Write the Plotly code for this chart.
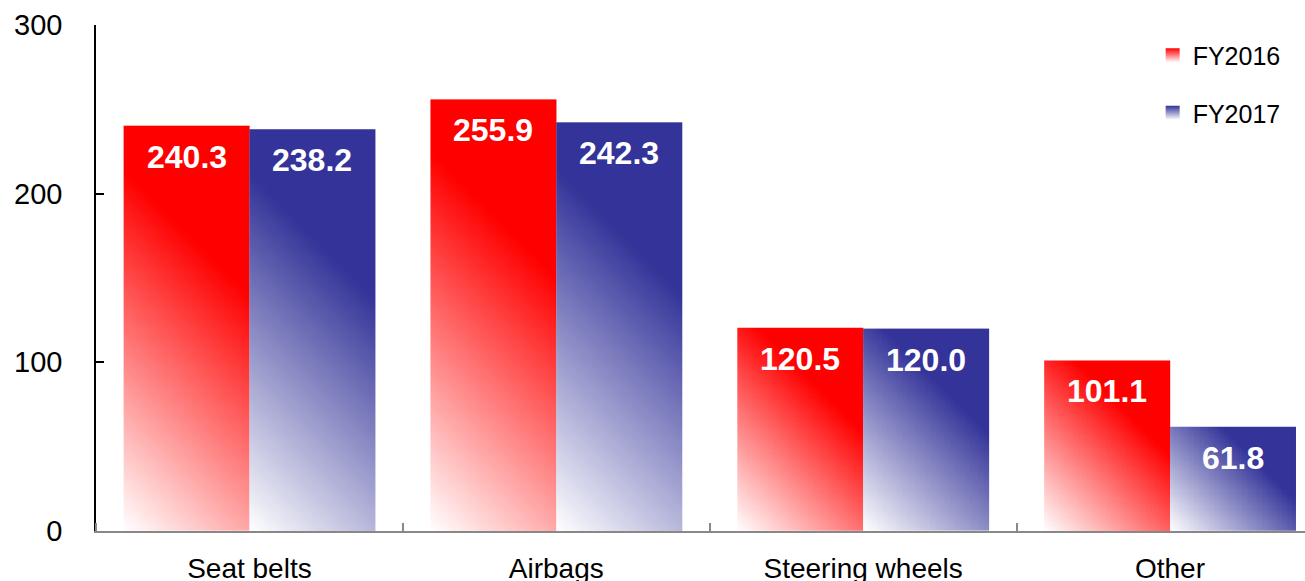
import numpy as np
import plotly.graph_objects as go

categories = ["Seat belts", "Airbags", "Steering wheels", "Other"]
fy2016 = [240.3, 255.9, 120.5, 101.1]
fy2017 = [238.2, 242.3, 120.0, 61.8]
series_names = ["FY2016", "FY2017"]
series_colors = ["#ff0000", "#333399"]

W, H = 1305, 581
ML, MR, MT, MB = 96, 0, 25, 50
XR = [-0.5, 3.44]
YR = [0, 300]
PXX = (W - ML - MR) / (XR[1] - XR[0])
PXY = (H - MT - MB) / (YR[1] - YR[0])
BARW = 0.41
FULL_AT = 0.68

fig = go.Figure()

for s, (vals, col) in enumerate(zip([fy2016, fy2017], series_colors)):
    for i, v in enumerate(vals):
        x0 = i - BARW + s * BARW
        x1 = x0 + BARW
        nx = 50
        ny = max(20, int(v * 0.8))
        xe = np.linspace(x0, x1, nx + 1)
        ye = np.linspace(0, v, ny + 1)
        xc = (xe[:-1] + xe[1:]) / 2
        yc = (ye[:-1] + ye[1:]) / 2
        dx = (xc - x0) * PXX
        dy = yc * PXY
        tot = (x1 - x0) * PXX + v * PXY
        t = (dx[None, :] + dy[:, None]) / tot
        z = np.clip(t / FULL_AT, 0, 1)
        fig.add_trace(go.Heatmap(
            x=xe, y=ye, z=z, zmin=0, zmax=1,
            colorscale=[[0, "#ffffff"], [1, col]],
            showscale=False, hoverinfo="skip", showlegend=False,
        ))
        fig.add_annotation(
            x=(x0 + x1) / 2, y=v, yanchor="top", yshift=-11,
            text=f"{v:.1f}", showarrow=False,
            font=dict(family="Liberation Sans, Arial", size=32, color="white", weight="bold"),
        )

for s, (name, col) in enumerate(zip(series_names, series_colors)):
    fig.add_trace(go.Scatter(
        x=[None], y=[None], mode="markers", name=name, legendgroup=name,
        marker=dict(symbol="square", size=14, color=col,
                    gradient=dict(type="vertical", color="#ffffff")),
    ))

fig.update_layout(
    width=W, height=H,
    margin=dict(l=ML, r=MR, t=MT, b=MB, pad=0, autoexpand=False),
    plot_bgcolor="white", paper_bgcolor="white",
    font=dict(family="Liberation Sans, Arial", color="black"),
    showlegend=True,
    legend=dict(x=0.874, y=0.985, xanchor="left", yanchor="top",
                font=dict(size=25, color="black"), tracegroupgap=22,
                bgcolor="rgba(0,0,0,0)", traceorder="grouped"),
    xaxis=dict(range=XR, tickmode="array", tickvals=list(range(len(categories))),
               ticktext=categories, ticks="", showgrid=False, zeroline=False,
               showline=True, linecolor="#888888", linewidth=1.5, automargin=False,
               tickfont=dict(size=28), ticklabelstandoff=12,
               minor=dict(tickmode="array", tickvals=[-0.5, 0.5, 1.5, 2.5, 3.5],
                          ticks="inside", ticklen=8, tickcolor="#888888", tickwidth=1.5,
                          showgrid=False)),
    yaxis=dict(range=YR, tickvals=[0, 100, 200, 300], ticks="inside", ticklen=8,
               tickcolor="black", tickwidth=1.5, showgrid=False, zeroline=False,
               showline=True, linecolor="black", linewidth=1.5, automargin=False,
               tickfont=dict(size=29), ticklabelstandoff=26),
)

fig.write_html("out.html")
